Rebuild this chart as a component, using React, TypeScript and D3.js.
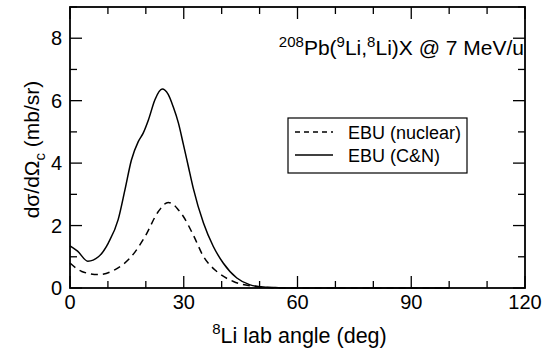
import React, { useEffect, useRef } from "react";
import * as d3 from "d3";

// EBU (C&N), solid line
const cnAngle = [0, 2, 4.7, 7.5, 10.1, 12.7, 14.5, 16.2, 18, 19.3, 20.7, 22.4, 24.3, 25.9, 27.2, 28.6, 29.9, 31.2, 32.5, 35.2, 37.8, 40.4, 44, 47.5, 51, 55, 60, 70, 80, 90, 100];
const cnValue = [1.35, 1.18, 0.86, 1.0, 1.44, 2.19, 3.15, 4.1, 4.69, 4.96, 5.39, 6.03, 6.37, 6.2, 5.81, 5.28, 4.6, 3.9, 3.2, 2.08, 1.33, 0.8, 0.32, 0.1, 0.03, 0.01, 0, 0, 0, 0, 0];

// EBU (nuclear), dashed line
const nucAngle = [0, 3.1, 7.5, 11.9, 16.2, 19.8, 23.3, 25.9, 27.2, 28.6, 29.9, 32.5, 35.2, 38.7, 43.1, 47.5, 52, 58, 70, 80, 90, 100];
const nucValue = [0.8, 0.53, 0.43, 0.59, 1.01, 1.65, 2.45, 2.74, 2.68, 2.5, 2.29, 1.7, 1.01, 0.53, 0.21, 0.07, 0.02, 0, 0, 0, 0, 0];

const xMajor = [0, 30, 60, 90, 120];
const yMajor = [0, 2, 4, 6, 8];
const legendLabels = ["EBU (nuclear)", "EBU (C&N)"];

const W = 546;
const H = 350;
const margin = { top: 7, right: 21, bottom: 62, left: 70 };
const FONT = "'Liberation Sans', Arial, Helvetica, sans-serif";

export default function App() {
  const ref = useRef<SVGSVGElement>(null);

  useEffect(() => {
    const svg = d3.select(ref.current);
    svg.selectAll("*").remove();
    const width = W - margin.left - margin.right;
    const height = H - margin.top - margin.bottom;

    const x = d3.scaleLinear().domain([0, 120]).range([0, width]);
    const y = d3.scaleLinear().domain([0, 9]).range([height, 0]);

    const g = svg
      .append("g")
      .attr("transform", `translate(${margin.left},${margin.top})`);

    // inward ticks on all four sides
    const xMinor = d3.range(0, 121, 10).filter((v) => !xMajor.includes(v));
    const yMinor = d3.range(0, 10, 1).filter((v) => !yMajor.includes(v));

    const ticks = g.append("g").attr("stroke", "#000").attr("stroke-width", 1.3);
    [0, height].forEach((yy) => {
      const dir = yy === 0 ? 1 : -1;
      xMajor.forEach((v) =>
        ticks.append("line").attr("x1", x(v)).attr("x2", x(v)).attr("y1", yy).attr("y2", yy + dir * 12)
      );
      xMinor.forEach((v) =>
        ticks.append("line").attr("x1", x(v)).attr("x2", x(v)).attr("y1", yy).attr("y2", yy + dir * 7)
      );
    });
    [0, width].forEach((xx) => {
      const dir = xx === 0 ? 1 : -1;
      yMajor.forEach((v) =>
        ticks.append("line").attr("y1", y(v)).attr("y2", y(v)).attr("x1", xx).attr("x2", xx + dir * 12)
      );
      yMinor.forEach((v) =>
        ticks.append("line").attr("y1", y(v)).attr("y2", y(v)).attr("x1", xx).attr("x2", xx + dir * 7)
      );
    });

    // tick labels
    g.append("g")
      .selectAll("text")
      .data(xMajor)
      .join("text")
      .attr("x", (d) => x(d))
      .attr("y", height + 21)
      .attr("text-anchor", "middle")
      .style("font-family", FONT)
      .style("font-size", "20px")
      .text((d) => d);

    g.append("g")
      .selectAll("text")
      .data(yMajor)
      .join("text")
      .attr("x", -8)
      .attr("y", (d) => y(d) + 7)
      .attr("text-anchor", "end")
      .style("font-family", FONT)
      .style("font-size", "20px")
      .text((d) => d);

    // curves
    const line = d3
      .line<[number, number]>()
      .x((d) => x(d[0]))
      .y((d) => y(d[1]))
      .curve(d3.curveMonotoneX);

    const cn = cnAngle.map((a, i) => [a, cnValue[i]] as [number, number]);
    const nuc = nucAngle.map((a, i) => [a, nucValue[i]] as [number, number]);

    g.append("path")
      .attr("d", line(nuc))
      .attr("fill", "none")
      .attr("stroke", "#000")
      .attr("stroke-width", 1.5)
      .attr("stroke-dasharray", "7,5");

    g.append("path")
      .attr("d", line(cn))
      .attr("fill", "none")
      .attr("stroke", "#000")
      .attr("stroke-width", 1.5);

    // frame
    g.append("rect")
      .attr("width", width)
      .attr("height", height)
      .attr("fill", "none")
      .attr("stroke", "#000")
      .attr("stroke-width", 1.8);

    // title
    const title = g
      .append("text")
      .attr("x", width - 1)
      .attr("y", 48)
      .attr("text-anchor", "end")
      .style("font-family", FONT)
      .style("font-size", "21px");
    const sup = (t: string) => {
      title.append("tspan").attr("dy", -8).style("font-size", "15px").text(t);
    };
    const main = (t: string) => {
      title.append("tspan").attr("dy", 8).text(t);
    };
    title.append("tspan").attr("dy", -8).style("font-size", "15px").text("208");
    main("Pb(");
    sup("9");
    main("Li,");
    sup("8");
    main("Li)X @ 7 MeV/u");

    // legend
    const lx = 288 - margin.left;
    const ly = 118 - margin.top;
    g.append("rect")
      .attr("x", lx)
      .attr("y", ly)
      .attr("width", 179)
      .attr("height", 55)
      .attr("fill", "#fff")
      .attr("stroke", "#000")
      .attr("stroke-width", 1.2);
    legendLabels.forEach((lab, i) => {
      const cy = ly + 14 + i * 23;
      g.append("line")
        .attr("x1", lx + 7)
        .attr("x2", lx + 45)
        .attr("y1", cy)
        .attr("y2", cy)
        .attr("stroke", "#000")
        .attr("stroke-width", 1.5)
        .attr("stroke-dasharray", i === 0 ? "5,4" : null);
      g.append("text")
        .attr("x", lx + 60)
        .attr("y", cy + 7)
        .style("font-family", FONT)
        .style("font-size", "18px")
        .text(lab);
    });

    // axis labels
    const xl = g
      .append("text")
      .attr("x", width / 2 + 2)
      .attr("y", height + 55)
      .attr("text-anchor", "middle")
      .style("font-family", FONT)
      .style("font-size", "21.5px");
    xl.append("tspan").attr("dy", -9).style("font-size", "15px").text("8");
    xl.append("tspan").attr("dy", 9).text("Li lab angle (deg)");

    const yl = g
      .append("text")
      .attr("transform", `translate(${-31},${height / 2 + 2}) rotate(-90)`)
      .attr("text-anchor", "middle")
      .style("font-family", FONT)
      .style("font-size", "21px");
    yl.append("tspan").text("dσ/dΩ");
    yl.append("tspan").attr("dy", 6).style("font-size", "15px").text("c");
    yl.append("tspan").attr("dy", -6).text(" (mb/sr)");
  }, []);

  return (
    <svg
      ref={ref}
      width={W}
      height={H}
      style={{ position: "absolute", left: 0, top: 0, background: "#fff" }}
    />
  );
}
